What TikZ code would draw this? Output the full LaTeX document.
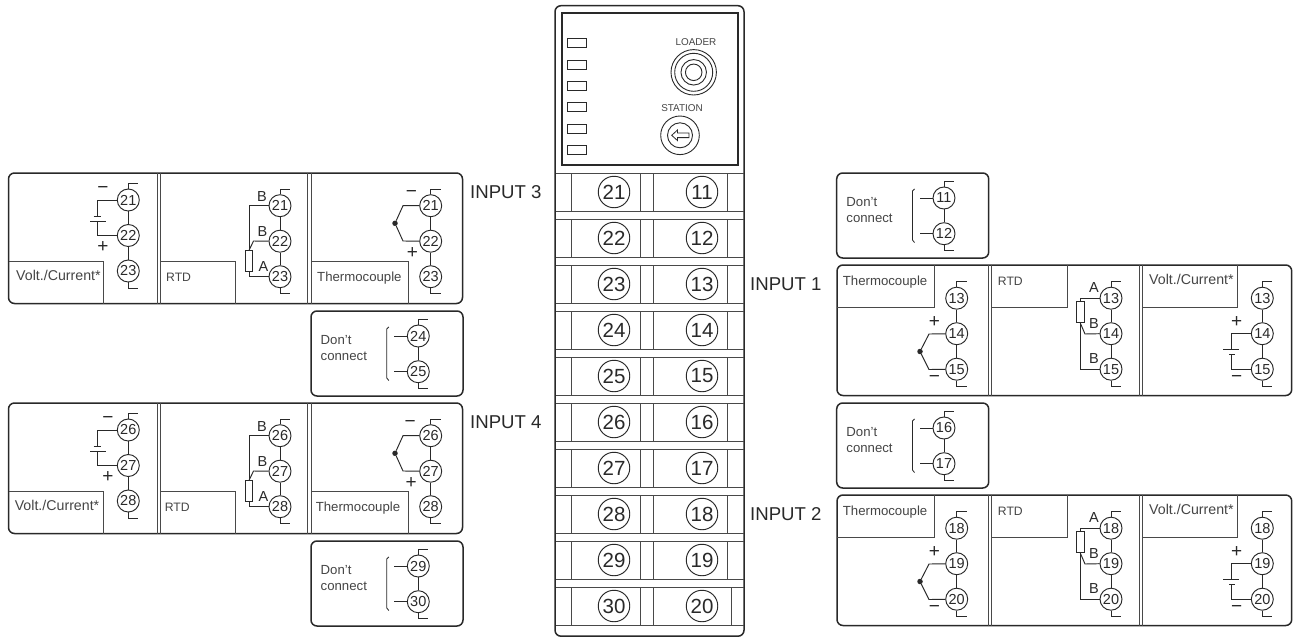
\documentclass[tikz,border=0pt]{standalone}
\usepackage{fontspec}
\setmainfont{Liberation Sans}
\usetikzlibrary{calc}
\definecolor{ink}{gray}{0.16}
\definecolor{txt}{gray}{0.27}
\tikzset{
  wire/.style={draw=ink,line width=0.95pt},
  outer/.style={draw=ink,line width=1.5pt,rounded corners=6pt,outer sep=0pt},
  boxline/.style={draw=ink!85,line width=1pt},
  term/.style={circle,draw=ink,line width=0.95pt,minimum size=22pt,inner sep=0pt,fill=white,text=ink,font=\fontsize{14.5}{14.5}\selectfont},
  bigterm/.style={circle,draw=ink,line width=0.95pt,minimum size=31.5pt,inner sep=0pt,fill=white,text=ink,font=\fontsize{20.5}{20.5}\selectfont},
  lab/.style={inner sep=0pt,anchor=base west,text=txt,font=\fontsize{13.2}{13.2}\selectfont},
  voltlab/.style={lab,font=\fontsize{14.2}{14.2}\selectfont},
  rtdlab/.style={lab,font=\fontsize{12.2}{12.2}\selectfont},
  sign/.style={inner sep=0pt,text=ink,font=\fontsize{19}{19}\selectfont},
  letter/.style={inner sep=0pt,text=ink,font=\fontsize{14.5}{14.5}\selectfont},
  inlab/.style={inner sep=0pt,anchor=west,text=ink,font=\fontsize{18.6}{18.6}\selectfont},
  smalllab/.style={inner sep=0pt,text=txt,font=\fontsize{9.9}{9.9}\selectfont},
  led/.style={draw=ink,line width=0.95pt,fill=white,outer sep=0pt},
  junction/.style={circle,fill=ink,inner sep=0pt,minimum size=5.5pt}
}
\newcommand{\trio}[6]{%
  \node[term] (#1a) at (#2,#3) {#4};
  \node[term] (#1b) at (#2,#3+35.5) {#5};
  \node[term] (#1c) at (#2,#3+71) {#6};
  \coordinate (#1u) at (#2,#3-16.5);
  \coordinate (#1ue) at (#2+10,#3-16.5);
  \coordinate (#1d) at (#2,#3+88);
  \coordinate (#1de) at (#2+10,#3+88);
  \draw[wire] (#1a) -- (#1b);
  \draw[wire] (#1b) -- (#1c);
  \draw[wire] (#1a) -- (#1u) -- (#1ue);
  \draw[wire] (#1c) -- (#1d) -- (#1de);
}
\newcommand{\dontbox}[6]{%
  \node[outer,minimum width=152pt,minimum height=85pt,anchor=north west,inner sep=0pt] (#1box) at (#2,#3) {};
  \node[lab] (#1t1) at (#2+9.5,#3+33.3) {Don’t};
  \node[lab] (#1t2) at (#2+9.5,#3+49) {connect};
  \node[term] (#1a) at (#4,#3+25) {#5};
  \node[term] (#1b) at (#4,#3+60.7) {#6};
  \coordinate (#1u) at (#4,#3+8);
  \coordinate (#1ue) at (#4+10,#3+8);
  \coordinate (#1d) at (#4,#3+77);
  \coordinate (#1de) at (#4+10,#3+77);
  \coordinate (#1la) at (#4-24,#3+25);
  \coordinate (#1lb) at (#4-24,#3+60.7);
  \draw[wire] (#1a) -- (#1b);
  \draw[wire] (#1a) -- (#1u) -- (#1ue);
  \draw[wire] (#1b) -- (#1d) -- (#1de);
  \draw[wire] (#1a) -- (#1la);
  \draw[wire] (#1b) -- (#1lb);
  \draw[draw=ink,line width=0.8pt] (#4-29.5,#3+16) -- (#4-31.5,#3+18) -- (#4-31.5,#3+67) -- (#4-29.5,#3+69.5);
}
% prefix, n1, n2, n3, text shift, volt sign x
\newcommand{\leftgroup}[6]{%
  \node[outer,minimum width=454pt,minimum height=130.5pt,anchor=north west,inner sep=0pt] (#1box) at (8.5,173) {};
  \draw[boxline] (157,173) -- (157,303.5) (160.5,173) -- (160.5,303.5) (307.5,173) -- (307.5,303.5) (311,173) -- (311,303.5);
  \draw[boxline] (8.5,261.5) -| (103,303.5);
  \draw[boxline] (160.5,261.5) -| (235.5,303.5);
  \draw[boxline] (311,261.5) -| (408.5,303.5);
  % volt
  \trio{#1v}{128.3}{200}{#2}{#3}{#4}
  \node[voltlab] (#1lv) at (#5+16,280.5) {Volt./Current*};
  \coordinate (#1vs) at (97.3,216);
  \coordinate (#1vl) at (97.3,221);
  \draw[wire] (#1va) -| (#1vs);
  \draw[wire] (#1vb) -| (#1vl);
  \draw[wire] (93.5,216) -- (101,216);
  \draw[wire] (90,221) -- (105.5,221);
  \node[sign] (#1vm) at (#6,190) {−};
  \node[sign] (#1vp) at (#6,247) {+};
  % rtd
  \trio{#1r}{280}{205.7}{#2}{#3}{#4}
  \node[rtdlab] (#1lr) at (#5+166,281) {RTD};
  \node[draw=ink,line width=0.95pt,minimum width=7.7pt,minimum height=20.7pt,inner sep=0pt] (#1res) at (249,261.3) {};
  \draw[wire] (#1ra) -| (#1res.north);
  \draw[wire] (#1rb.west) -- (253.5,241) -- (#1res.north);
  \draw[wire] (#1rc) -| (#1res.south);
  \node[letter] (#1b1) at (262,196.5) {B};
  \node[letter] (#1b2) at (262.5,232) {B};
  \node[letter] (#1al) at (263.5,267) {A};
  % thermocouple
  \trio{#1t}{430.7}{205.7}{#2}{#3}{#4}
  \node[lab] (#1lt) at (#5+317,281) {Thermocouple};
  \node[junction] (#1j) at (395,223.3) {};
  \coordinate (#1ja) at (403,205.7);
  \coordinate (#1jb) at (403,241);
  \draw[wire] (#1j) -- (#1ja) -- (#1ta);
  \draw[wire] (#1j) -- (#1jb) -- (#1tb);
  \node[sign] (#1tm) at (#5+411.5,194) {−};
  \node[sign] (#1tp) at (#5+412.5,253) {+};
}
\newcommand{\rightgroup}[4]{%
  \node[outer,minimum width=454.7pt,minimum height=130.5pt,anchor=north west,inner sep=0pt] (#1box) at (837,265) {};
  \draw[boxline] (988,265) -- (988,395.5) (991.3,265) -- (991.3,395.5) (1139.3,265) -- (1139.3,395.5) (1142.8,265) -- (1142.8,395.5);
  \draw[boxline] (837,307) -| (934.3,265);
  \draw[boxline] (991.3,307) -| (1067,265);
  \draw[boxline] (1142.8,307) -| (1237.3,265);
  % thermocouple
  \trio{#1t}{956.7}{298.2}{#2}{#3}{#4}
  \node[lab] (#1lt) at (842.7,285) {Thermocouple};
  \node[junction] (#1j) at (920,351.5) {};
  \coordinate (#1ja) at (929,334);
  \coordinate (#1jb) at (929,369.5);
  \draw[wire] (#1j) -- (#1ja) -- (#1tb);
  \draw[wire] (#1j) -- (#1jb) -- (#1tc);
  \node[sign] (#1tp) at (934.5,322) {+};
  \node[sign] (#1tm) at (934.5,379) {−};
  % rtd
  \trio{#1r}{1111}{298.2}{#2}{#3}{#4}
  \node[rtdlab] (#1lr) at (997.7,285) {RTD};
  \node[draw=ink,line width=0.95pt,minimum width=7.7pt,minimum height=20.7pt,inner sep=0pt] (#1res) at (1080.3,312.3) {};
  \draw[wire] (#1ra) -| (#1res.north);
  \draw[wire] (#1rb.west) -- (1085,334) -- (#1res.south);
  \draw[wire] (#1rc) -| (#1res.south);
  \node[letter] (#1al) at (1094,288) {A};
  \node[letter] (#1b1) at (1094,324) {B};
  \node[letter] (#1b2) at (1094,359) {B};
  % volt
  \trio{#1v}{1262.3}{298.2}{#2}{#3}{#4}
  \node[voltlab] (#1lv) at (1149,284.3) {Volt./Current*};
  \coordinate (#1vl) at (1231.7,349);
  \coordinate (#1vs) at (1231.7,354.3);
  \draw[wire] (#1vb) -| (#1vl);
  \draw[wire] (#1vc) -| (#1vs);
  \draw[wire] (1223,349) -- (1239.3,349);
  \draw[wire] (1229,354.3) -- (1235,354.3);
  \node[sign] (#1vp) at (1236.7,322) {+};
  \node[sign] (#1vm) at (1236.7,379) {−};
}
\newcommand{\termrow}[4]{%
  \draw[boxline] (555.5,#1) -- (743.5,#1) (555.5,#1+38) -- (743.5,#1+38);
  \draw[boxline] (571.7,#1) -- (571.7,#1+38) (640.7,#1) -- (640.7,#1+38) (653.3,#1) -- (653.3,#1+38) (#4,#1) -- (#4,#1+38);
  \node[bigterm] (c#2) at (614,#1+19) {#2};
  \node[bigterm] (c#3) at (702,#1+19) {#3};
}
\begin{document}
\begin{tikzpicture}[x=1pt,y=-1pt]
\useasboundingbox (0,0) rectangle (1300,637);
\fill[white] (0,0) rectangle (1300,637);
\node[outer,minimum width=189pt,minimum height=630.5pt,anchor=north west,inner sep=0pt] (dev) at (555,5.7) {};
\node[draw=ink,line width=1.7pt,outer sep=0pt,minimum width=176pt,minimum height=152pt,anchor=north west,inner sep=0pt] (panel) at (561.7,13) {};
\foreach \yy/\nn in {38.7/1,60/2,81.5/3,102.7/4,124.3/5,145.7/6}{
  \node[led,minimum width=19.4pt,minimum height=9pt,anchor=north west,inner sep=0pt] (led\nn) at (567.3,\yy) {};
}
\node[smalllab] (loader) at (696,42) {LOADER};
\node[smalllab] (station) at (682,108.3) {STATION};
\node[circle,draw=ink,line width=0.9pt,minimum size=45.4pt,inner sep=0pt] (l1) at (693.7,72.3) {};
\node[circle,draw=ink,line width=0.9pt,minimum size=38pt,inner sep=0pt] (l2) at (693.7,72.3) {};
\node[circle,draw=ink,line width=0.9pt,minimum size=25.5pt,inner sep=0pt] (l3) at (693.7,72.3) {};
\node[circle,draw=ink,line width=0.9pt,minimum size=16.5pt,inner sep=0pt] (l4) at (693.7,72.3) {};
\node[circle,draw=ink,line width=0.9pt,minimum size=38.6pt,inner sep=0pt] (s1) at (680,135.3) {};
\node[circle,draw=ink,line width=0.9pt,minimum size=25pt,inner sep=0pt] (s2) at (680,135.3) {};
\draw[draw=ink,line width=0.8pt,line join=miter] (671.7,135.3) -- (677.5,130) -- (677.5,133) -- (689,133) -- (689,137.6) -- (677.5,137.6) -- (677.5,140.6) -- cycle;
\termrow{173}{21}{11}{727.7}
\termrow{219}{22}{12}{727.7}
\termrow{265}{23}{13}{727.7}
\termrow{311}{24}{14}{727.7}
\termrow{357}{25}{15}{727.7}
\termrow{403}{26}{16}{727.7}
\termrow{449}{27}{17}{727.7}
\termrow{495}{28}{18}{727.7}
\termrow{541}{29}{19}{727.7}
\termrow{587}{30}{20}{731}
\node[inlab] (in3) at (470,192) {INPUT 3};
\node[inlab] (in4) at (470,422) {INPUT 4};
\node[inlab] (in1) at (750,284) {INPUT 1};
\node[inlab] (in2) at (750,514) {INPUT 2};
\leftgroup{x}{21}{22}{23}{0}{103}
\dontbox{p}{311}{311}{418.3}{24}{25}
\begin{scope}[shift={(0,230)}]
\leftgroup{y}{26}{27}{28}{-1.4}{108}
\dontbox{q}{311}{311}{418.3}{29}{30}
\end{scope}
\dontbox{r}{836.7}{173}{944}{11}{12}
\rightgroup{s}{13}{14}{15}
\begin{scope}[shift={(0,230)}]
\dontbox{u}{836.7}{173}{944}{16}{17}
\rightgroup{w}{18}{19}{20}
\end{scope}
\end{tikzpicture}
\end{document}
